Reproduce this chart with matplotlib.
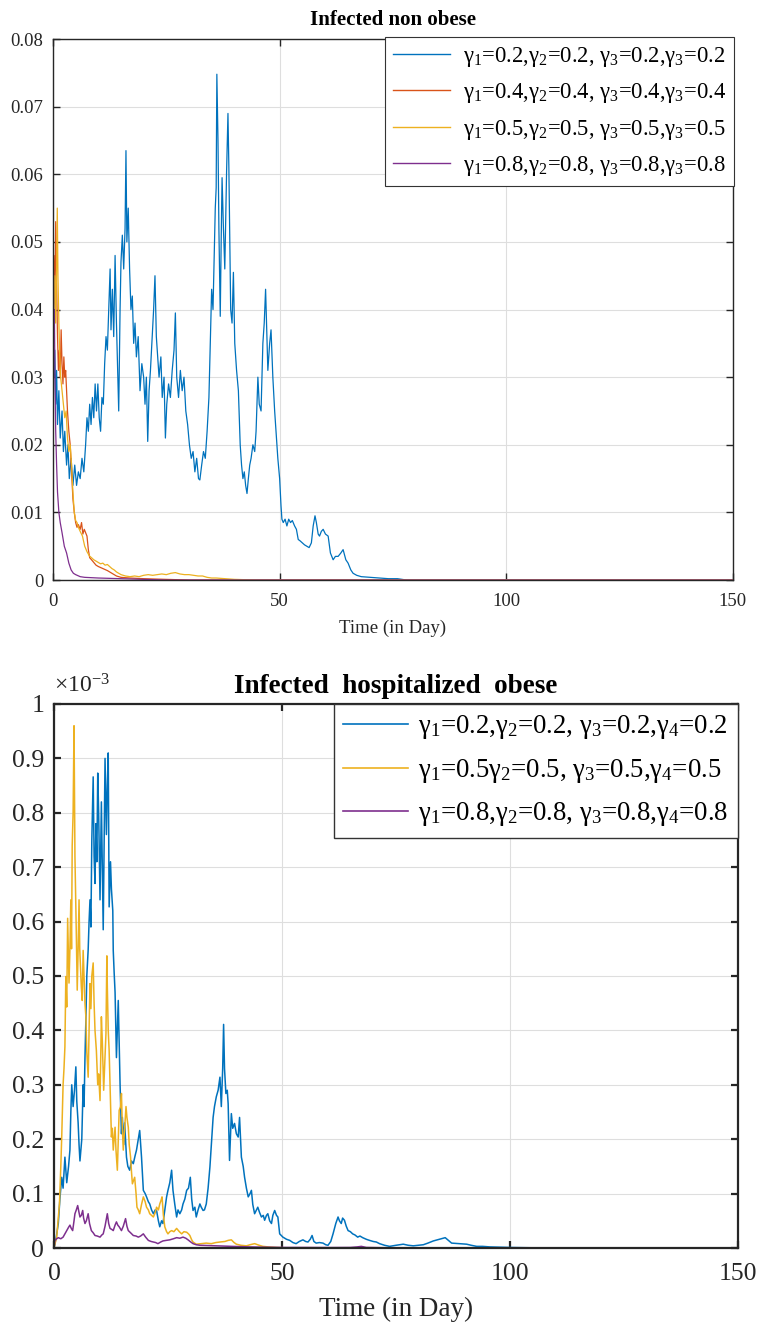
import numpy as np
import matplotlib
matplotlib.use('Agg')
import matplotlib.pyplot as plt
from matplotlib.ticker import FuncFormatter

plt.rcParams['font.family'] = ['Liberation Serif', 'DejaVu Serif']
plt.rcParams['mathtext.fontset'] = 'custom'
plt.rcParams['mathtext.rm'] = 'Liberation Serif'
plt.rcParams['mathtext.it'] = 'Liberation Serif:italic'
plt.rcParams['mathtext.default'] = 'regular'

# MATLAB default colours
c_blue, c_orange, c_yellow, c_purple = '#0072BD', '#D95319', '#EDB120', '#7E2F8E'

# ---------------- top panel: Infected non obese ----------------
t_top_blue = [0, 0.2, 0.4, 0.6, 0.8, 1.0, 1.3, 1.6, 2.0, 2.3, 2.6, 3.0, 3.3, 3.6, 4.0, 4.4, 4.8, 5.2, 5.6, 6.0,
              6.4, 6.8, 7.2, 7.5, 7.8, 8.1, 8.4, 8.7, 9.0, 9.3, 9.6, 9.9, 10.2, 10.5, 10.8, 11.1, 11.4, 11.7, 12.0, 12.3,
              12.6, 12.8, 13.1, 13.4, 13.7, 14.0, 14.3, 14.5, 14.8, 15.0, 15.3, 15.6, 15.9, 16.1, 16.3, 16.6, 16.9, 17.2, 17.5, 17.8,
              18.1, 18.4, 18.8, 19.2, 19.6, 20.0, 20.3, 20.6, 20.9, 21.2, 21.5, 21.9, 22.2, 22.5, 22.8, 23.1, 23.4, 23.8, 24.1, 24.5,
              24.8, 25.1, 25.5, 25.9, 26.3, 26.7, 27.0, 27.3, 27.7, 28.1, 28.5, 28.9, 29.3, 29.7, 30.1, 30.5, 30.9, 31.3, 31.7, 32.1,
              32.4, 32.8, 33.2, 33.6, 34.0, 34.4, 34.7, 35.0, 35.3, 35.5, 35.8, 36.0, 36.15, 36.4, 36.6, 36.9, 37.1, 37.3, 37.6, 37.9,
              38.1, 38.3, 38.6, 38.8, 39.0, 39.2, 39.5, 39.8, 40.1, 40.5, 40.9, 41.3, 41.6, 41.9, 42.2, 42.5, 42.8, 43.1, 43.4, 43.7,
              44.1, 44.5, 44.8, 45.2, 45.5, 45.9, 46.3, 46.6, 46.9, 47.2, 47.4, 47.8, 48.1, 48.5, 48.9, 49.3, 49.6, 50.0, 50.3, 50.5,
              50.8, 51.2, 51.6, 52.0, 52.4, 52.8, 53.3, 53.7, 54.1, 54.5, 55.0, 55.5, 56.0, 56.5, 57.0, 57.4, 57.8, 58.1, 58.5, 58.8,
              59.2, 59.6, 60.1, 60.7, 61.2, 61.8, 62.3, 62.9, 63.5, 64.0, 64.6, 65.1, 65.7, 66.2, 67.0, 68.0, 70.0, 72.0, 74.0, 76.0,
              78.0, 150]
v_top_blue = [0.040, 0.030, 0.034, 0.026, 0.031, 0.023, 0.028, 0.021, 0.025, 0.019, 0.022, 0.017, 0.020, 0.015, 0.018, 0.014, 0.017, 0.014, 0.016, 0.015,
              0.018, 0.016, 0.020, 0.024, 0.022, 0.026, 0.023, 0.027, 0.024, 0.029, 0.025, 0.029, 0.024, 0.022, 0.027, 0.026, 0.032, 0.036, 0.034, 0.040,
              0.046, 0.037, 0.043, 0.036, 0.048, 0.038, 0.030, 0.025, 0.040, 0.047, 0.051, 0.046, 0.052, 0.0635, 0.050, 0.055, 0.046, 0.040, 0.042, 0.035,
              0.038, 0.033, 0.036, 0.028, 0.032, 0.030, 0.026, 0.030, 0.0205, 0.028, 0.031, 0.036, 0.040, 0.045, 0.036, 0.033, 0.030, 0.033, 0.027, 0.030,
              0.021, 0.026, 0.029, 0.027, 0.031, 0.034, 0.0395, 0.030, 0.027, 0.031, 0.028, 0.030, 0.025, 0.023, 0.020, 0.018, 0.019, 0.016, 0.018, 0.015,
              0.0148, 0.017, 0.019, 0.018, 0.022, 0.027, 0.035, 0.043, 0.040, 0.046, 0.055, 0.058, 0.0748, 0.065, 0.052, 0.039, 0.050, 0.0595, 0.052, 0.046,
              0.053, 0.0605, 0.069, 0.061, 0.050, 0.040, 0.038, 0.0455, 0.035, 0.031, 0.028, 0.020, 0.017, 0.015, 0.016, 0.014, 0.0128, 0.015, 0.017, 0.018,
              0.020, 0.019, 0.022, 0.030, 0.026, 0.025, 0.035, 0.038, 0.043, 0.036, 0.031, 0.035, 0.037, 0.030, 0.025, 0.021, 0.018, 0.015, 0.011, 0.009,
              0.0085, 0.009, 0.008, 0.009, 0.0085, 0.0088, 0.008, 0.0075, 0.006, 0.0058, 0.0055, 0.0052, 0.005, 0.0048, 0.0055, 0.008, 0.0095, 0.0085, 0.0068, 0.0065,
              0.0072, 0.0075, 0.0068, 0.0065, 0.004, 0.003, 0.0035, 0.0035, 0.004, 0.0045, 0.003, 0.0025, 0.0015, 0.001, 0.0007, 0.0005, 0.0004, 0.0003, 0.0002, 0.0002,
              0.0, 0.0]

t_top_orange = [0, 0.2, 0.4, 0.6, 0.8, 1.0, 1.2, 1.4, 1.6, 1.8, 2.0, 2.2, 2.4, 2.6, 2.8, 3.0, 3.2, 3.5, 3.8, 4.1,
                4.4, 4.7, 5.0, 5.3, 5.6, 6.0, 6.3, 6.6, 6.9, 7.2, 7.5, 7.8, 8.1, 8.5, 9.0, 9.5, 10.0, 11.0, 12.0, 13.0,
                14.0, 15.0, 17.0, 20.0, 25.0, 30.0, 150]
v_top_orange = [0.045, 0.048, 0.041, 0.053, 0.044, 0.036, 0.031, 0.034, 0.030, 0.037, 0.032, 0.029, 0.033, 0.030, 0.031, 0.028, 0.025, 0.022, 0.020, 0.016,
                0.012, 0.010, 0.0085, 0.0078, 0.0082, 0.0075, 0.0085, 0.0068, 0.0075, 0.007, 0.0065, 0.0045, 0.0033, 0.003, 0.0026, 0.0022, 0.002, 0.0017, 0.0014, 0.001,
                0.0006, 0.0004, 0.0003, 0.0002, 0.0001, 0.0, 0.0]

t_top_yellow = [0, 0.2, 0.4, 0.6, 0.8, 0.95, 1.1, 1.3, 1.5, 1.7, 2.0, 2.3, 2.6, 2.9, 3.2, 3.5, 3.8, 4.1, 4.4, 4.7,
                5.0, 5.3, 5.6, 6.0, 6.5, 7.0, 7.5, 8.0, 8.5, 9.0, 9.5, 10.0, 10.5, 11.0, 11.5, 12.0, 12.5, 13.0, 13.5, 14.0,
                15.0, 16.0, 17.0, 18.0, 19.0, 20.0, 21.0, 22.0, 23.0, 24.0, 25.0, 26.0, 27.0, 28.0, 29.0, 30.0, 31.0, 32.0, 33.0, 34.0,
                35.0, 36.0, 38.0, 40.0, 45.0, 150]
v_top_yellow = [0.046, 0.040, 0.045, 0.038, 0.046, 0.055, 0.045, 0.038, 0.033, 0.030, 0.028, 0.026, 0.024, 0.025, 0.021, 0.019, 0.020, 0.017, 0.013, 0.010,
                0.0088, 0.0085, 0.0078, 0.0072, 0.0065, 0.005, 0.0042, 0.0036, 0.0033, 0.003, 0.0028, 0.0026, 0.0024, 0.0025, 0.0022, 0.0023, 0.002, 0.0017, 0.0015, 0.0012,
                0.0008, 0.0006, 0.0005, 0.0006, 0.0005, 0.0007, 0.0008, 0.0007, 0.0008, 0.0009, 0.0008, 0.001, 0.0011, 0.0009, 0.0008, 0.0008, 0.0007, 0.0006, 0.0006, 0.0004,
                0.0003, 0.0003, 0.0002, 0.0001, 0.0, 0.0]

t_top_purple = [0, 0.1, 0.2, 0.3, 0.45, 0.6, 0.8, 1.0, 1.3, 1.6, 2.0, 2.5, 3.0, 3.5, 4.0, 4.5, 5.0, 6.0, 7.0, 10.0,
                15.0, 20.0, 25.0, 150]
v_top_purple = [0.043, 0.046, 0.036, 0.040, 0.029, 0.022, 0.017, 0.013, 0.010, 0.0085, 0.007, 0.005, 0.004, 0.0025, 0.0015, 0.001, 0.0008, 0.0005, 0.0004, 0.0003,
                0.0002, 0.0001, 0.0, 0.0]

top_labels = [r'$\gamma_1$=0.2,$\gamma_2$=0.2, $\gamma_3$=0.2,$\gamma_3$=0.2',
              r'$\gamma_1$=0.4,$\gamma_2$=0.4, $\gamma_3$=0.4,$\gamma_3$=0.4',
              r'$\gamma_1$=0.5,$\gamma_2$=0.5, $\gamma_3$=0.5,$\gamma_3$=0.5',
              r'$\gamma_1$=0.8,$\gamma_2$=0.8, $\gamma_3$=0.8,$\gamma_3$=0.8']

# ---------------- bottom panel: Infected hospitalized obese (values x 1e-3) ----------------
t_bot_blue = [0, 0.5, 0.95, 1.3, 1.7, 2.0, 2.4, 2.8, 3.2, 3.5, 3.7, 3.9, 4.2, 4.5, 4.8, 5.0, 5.3, 5.5, 5.7, 5.9,
              6.1, 6.4, 6.6, 6.8, 7.0, 7.2, 7.5, 7.7, 7.9, 8.1, 8.3, 8.6, 8.8, 9.0, 9.2, 9.4, 9.6, 9.8, 10.1, 10.4,
              10.6, 10.8, 11.0, 11.2, 11.4, 11.5, 11.7, 11.9, 12.1, 12.4, 12.6, 12.9, 13.0, 13.2, 13.4, 13.7, 14.1, 14.3, 14.5, 14.8,
              15.0, 15.3, 15.5, 15.9, 16.2, 16.6, 17.0, 17.4, 17.8, 18.1, 18.5, 18.8, 19.2, 19.6, 20.0, 20.3, 20.7, 21.0, 21.4, 21.8,
              22.2, 22.5, 22.9, 23.2, 23.6, 23.9, 24.3, 24.7, 25.0, 25.4, 25.8, 26.1, 26.5, 26.9, 27.2, 27.6, 28.0, 28.3, 28.7, 29.1,
              29.5, 29.9, 30.2, 30.5, 30.9, 31.2, 31.6, 32.0, 32.3, 32.7, 33.0, 33.4, 33.8, 34.2, 34.6, 34.9, 35.2, 35.6, 36.0, 36.4,
              36.7, 37.0, 37.2, 37.4, 37.7, 38.0, 38.2, 38.5, 38.9, 39.2, 39.6, 40.0, 40.4, 40.7, 41.1, 41.5, 41.8, 42.2, 42.6, 43.0,
              43.3, 43.6, 44.0, 44.4, 44.7, 45.1, 45.5, 45.9, 46.2, 46.6, 46.9, 47.3, 47.7, 48.0, 48.4, 48.8, 49.1, 49.5, 50.2, 51.0,
              51.7, 52.4, 53.1, 53.8, 54.6, 55.2, 55.7, 56.2, 56.6, 57.0, 57.5, 58.2, 59.0, 59.6, 60.1, 60.7, 61.2, 61.8, 62.3, 62.6,
              63.0, 63.3, 63.7, 64.1, 64.5, 65.0, 65.5, 66.0, 66.6, 67.1, 67.7, 68.5, 69.2, 70.0, 70.7, 71.4, 72.5, 73.6, 75.0, 76.6,
              77.7, 78.8, 80.0, 81.0, 82.0, 83.2, 84.5, 85.8, 86.5, 87.2, 88.8, 90.5, 91.5, 92.7, 94.0, 95.6, 98.0, 100.0, 104.5, 108.0,
              150]
v_bot_blue = [0, 0.02, 0.045, 0.09, 0.13, 0.11, 0.167, 0.12, 0.15, 0.18, 0.25, 0.30, 0.26, 0.29, 0.333, 0.27, 0.23, 0.19, 0.16, 0.18,
              0.20, 0.30, 0.26, 0.35, 0.42, 0.50, 0.548, 0.60, 0.64, 0.59, 0.75, 0.866, 0.72, 0.67, 0.78, 0.71, 0.873, 0.80, 0.64, 0.82,
              0.70, 0.585, 0.75, 0.90, 0.80, 0.76, 0.85, 0.91, 0.627, 0.71, 0.66, 0.62, 0.547, 0.506, 0.47, 0.35, 0.455, 0.38, 0.30, 0.21,
              0.24, 0.19, 0.23, 0.167, 0.15, 0.143, 0.16, 0.155, 0.17, 0.18, 0.20, 0.216, 0.167, 0.106, 0.10, 0.094, 0.085, 0.081, 0.07, 0.063,
              0.07, 0.069, 0.05, 0.039, 0.05, 0.045, 0.07, 0.094, 0.106, 0.12, 0.143, 0.106, 0.08, 0.057, 0.07, 0.063, 0.07, 0.081, 0.09, 0.106,
              0.11, 0.13, 0.09, 0.069, 0.075, 0.057, 0.07, 0.081, 0.075, 0.069, 0.07, 0.081, 0.11, 0.149, 0.20, 0.24, 0.26, 0.278, 0.29, 0.314,
              0.26, 0.33, 0.411, 0.33, 0.284, 0.29, 0.265, 0.161, 0.247, 0.22, 0.229, 0.21, 0.204, 0.24, 0.167, 0.15, 0.13, 0.11, 0.094, 0.10,
              0.106, 0.08, 0.063, 0.07, 0.075, 0.065, 0.057, 0.06, 0.051, 0.06, 0.063, 0.05, 0.045, 0.06, 0.069, 0.06, 0.057, 0.026, 0.02, 0.016,
              0.014, 0.01, 0.008, 0.012, 0.015, 0.012, 0.011, 0.016, 0.023, 0.012, 0.009, 0.01, 0.009, 0.006, 0.005, 0.012, 0.026, 0.045, 0.057, 0.05,
              0.045, 0.055, 0.051, 0.04, 0.032, 0.03, 0.026, 0.024, 0.02, 0.022, 0.019, 0.016, 0.014, 0.012, 0.011, 0.008, 0.005, 0.003, 0.005, 0.007,
              0.005, 0.004, 0.005, 0.006, 0.009, 0.013, 0.016, 0.019, 0.014, 0.009, 0.008, 0.007, 0.005, 0.003, 0.003, 0.002, 0.0015, 0.001, 0.0005, 0.0,
              0.0]

t_bot_yellow = [0, 0.3, 0.6, 0.9, 1.2, 1.5, 1.7, 2.0, 2.2, 2.4, 2.6, 2.8, 3.0, 3.2, 3.3, 3.5, 3.7, 3.85, 4.0, 4.2,
                4.4, 4.6, 4.75, 4.9, 5.1, 5.3, 5.5, 5.65, 5.8, 6.0, 6.2, 6.4, 6.6, 6.8, 7.0, 7.2, 7.5, 7.7, 7.9, 8.1,
                8.3, 8.6, 8.8, 9.0, 9.3, 9.6, 9.8, 10.1, 10.4, 10.6, 10.9, 11.1, 11.4, 11.6, 11.7, 11.9, 12.1, 12.3, 12.6, 12.8,
                13.0, 13.2, 13.4, 13.6, 13.9, 14.1, 14.3, 14.6, 14.8, 15.0, 15.2, 15.5, 15.8, 16.0, 16.3, 16.5, 16.8, 17.0, 17.2, 17.5,
                17.7, 18.0, 18.2, 18.5, 18.8, 19.2, 19.6, 20.0, 20.3, 20.7, 21.0, 21.4, 21.8, 22.2, 22.5, 22.9, 23.2, 23.5, 23.7, 24.0,
                24.3, 24.7, 25.0, 25.4, 25.8, 26.3, 26.9, 27.5, 28.0, 28.5, 29.1, 29.5, 29.8, 30.2, 30.5, 31.2, 32.2, 33.4, 34.5, 35.5,
                36.4, 37.5, 38.2, 38.9, 39.5, 40.0, 41.0, 42.2, 43.0, 44.0, 45.0, 45.8, 47.0, 48.8, 52.0, 150]
v_bot_yellow = [0, 0.01, 0.02, 0.05, 0.081, 0.15, 0.204, 0.30, 0.33, 0.37, 0.499, 0.443, 0.606, 0.52, 0.487, 0.55, 0.64, 0.55, 0.74, 0.80,
                0.96, 0.72, 0.65, 0.578, 0.474, 0.55, 0.64, 0.55, 0.52, 0.48, 0.455, 0.547, 0.50, 0.45, 0.425, 0.36, 0.314, 0.40, 0.486, 0.44,
                0.50, 0.524, 0.45, 0.40, 0.363, 0.30, 0.32, 0.271, 0.425, 0.38, 0.29, 0.33, 0.394, 0.537, 0.48, 0.40, 0.363, 0.30, 0.204, 0.22,
                0.18, 0.20, 0.222, 0.18, 0.143, 0.20, 0.253, 0.26, 0.284, 0.22, 0.18, 0.22, 0.26, 0.24, 0.222, 0.19, 0.167, 0.14, 0.118, 0.125,
                0.13, 0.10, 0.075, 0.07, 0.063, 0.08, 0.094, 0.085, 0.075, 0.07, 0.063, 0.06, 0.057, 0.065, 0.075, 0.07, 0.081, 0.088, 0.094, 0.06,
                0.039, 0.03, 0.026, 0.03, 0.032, 0.03, 0.036, 0.03, 0.026, 0.03, 0.029, 0.026, 0.023, 0.015, 0.011, 0.007, 0.008, 0.009, 0.008, 0.01,
                0.011, 0.012, 0.014, 0.015, 0.01, 0.007, 0.005, 0.004, 0.006, 0.008, 0.005, 0.003, 0.002, 0.001, 0.0, 0.0]

t_bot_purple = [0, 0.2, 0.6, 0.95, 1.5, 2.0, 2.4, 2.8, 3.2, 3.5, 3.8, 4.1, 4.4, 4.6, 4.9, 5.2, 5.5, 5.7, 6.0, 6.3,
                6.5, 6.8, 7.1, 7.5, 7.8, 8.2, 8.6, 9.0, 9.5, 10.1, 10.5, 10.8, 11.2, 11.7, 12.0, 12.3, 12.7, 13.0, 13.4, 13.7,
                14.0, 14.3, 14.8, 15.2, 15.7, 16.0, 16.3, 16.8, 17.4, 18.0, 18.5, 19.0, 19.6, 20.1, 20.7, 21.3, 21.8, 22.3, 22.8, 23.4,
                23.9, 24.6, 25.4, 26.2, 26.9, 27.6, 28.3, 28.9, 29.4, 30.0, 30.5, 31.2, 32.0, 35.6, 39.0, 42.9, 46.0, 50.2, 55.0, 60.0,
                65.0, 66.5, 67.4, 68.5, 72.0, 80.0, 150]
v_bot_purple = [0, 0.014, 0.017, 0.019, 0.017, 0.02, 0.026, 0.032, 0.038, 0.042, 0.036, 0.032, 0.05, 0.063, 0.07, 0.078, 0.065, 0.057, 0.06, 0.069,
                0.055, 0.045, 0.05, 0.063, 0.045, 0.032, 0.028, 0.023, 0.022, 0.02, 0.024, 0.026, 0.04, 0.063, 0.045, 0.036, 0.034, 0.032, 0.042, 0.048,
                0.042, 0.039, 0.032, 0.04, 0.054, 0.04, 0.032, 0.028, 0.023, 0.022, 0.02, 0.022, 0.026, 0.02, 0.014, 0.012, 0.011, 0.01, 0.008, 0.011,
                0.013, 0.014, 0.015, 0.017, 0.019, 0.018, 0.02, 0.018, 0.015, 0.011, 0.008, 0.006, 0.005, 0.004, 0.003, 0.002, 0.0015, 0.001, 0.001, 0.0008,
                0.001, 0.002, 0.003, 0.001, 0.0005, 0.0, 0.0]

bot_labels = [r'$\gamma_1$=0.2,$\gamma_2$=0.2, $\gamma_3$=0.2,$\gamma_4$=0.2',
              r'$\gamma_1$=0.5$\gamma_2$=0.5, $\gamma_3$=0.5,$\gamma_4$=0.5',
              r'$\gamma_1$=0.8,$\gamma_2$=0.8, $\gamma_3$=0.8,$\gamma_4$=0.8']

x_ticks = [0, 50, 100, 150]
top_yticks = [0, 0.01, 0.02, 0.03, 0.04, 0.05, 0.06, 0.07, 0.08]
bot_yticks = [0, 0.1, 0.2, 0.3, 0.4, 0.5, 0.6, 0.7, 0.8, 0.9, 1.0]  # x 1e-3

fig = plt.figure(figsize=(7.59, 13.24), dpi=100)
ax1 = fig.add_axes([0.0698, 0.5619, 0.8959, 0.4086])
ax2 = fig.add_axes([0.0711, 0.0574, 0.9012, 0.4109])

def style(ax, fs, lw, xpad, ypad):
    ax.set_xlim(0, 150)
    ax.set_xticks(x_ticks)
    ax.grid(True, color='#dedede', lw=0.8)
    ax.set_axisbelow(True)
    ax.tick_params(direction='in', top=True, right=True, labelsize=fs, colors='#262626',
                   length=5, width=lw)
    ax.tick_params(axis='x', pad=xpad)
    ax.tick_params(axis='y', pad=ypad)
    for s in ax.spines.values():
        s.set_color('#262626')
        s.set_linewidth(lw)

# top panel
ax1.plot(t_top_blue, v_top_blue, color=c_blue, lw=0.9, label=top_labels[0])
ax1.plot(t_top_orange, v_top_orange, color=c_orange, lw=0.9, label=top_labels[1])
ax1.plot(t_top_yellow, v_top_yellow, color=c_yellow, lw=0.9, label=top_labels[2])
ax1.plot(t_top_purple, v_top_purple, color=c_purple, lw=0.9, label=top_labels[3])
style(ax1, 13.5, 1.0, 9, 7)
ax1.set_ylim(0, 0.08)
ax1.set_yticks(top_yticks)
ax1.yaxis.set_major_formatter(FuncFormatter(lambda v, p: '0' if v == 0 else f'{v:.2f}'))
ax1.set_xlabel('Time (in Day)', fontsize=13.5, color='#262626', labelpad=7)
ax1.set_title('Infected non obese', fontsize=15, fontweight='bold', pad=10)
leg1 = ax1.legend(loc='upper right', bbox_to_anchor=(1.002, 1.004), fontsize=16.3, handlelength=2.5,
                  frameon=True, fancybox=False, framealpha=1, edgecolor='#333333',
                  borderaxespad=0, labelspacing=0.55, handletextpad=0.6, borderpad=0.35)
leg1.get_frame().set_linewidth(0.8)
for ln in leg1.get_lines():
    ln.set_linewidth(1.0)

# bottom panel
s = 1e-3
ax2.plot(t_bot_blue, np.array(v_bot_blue) * s, color=c_blue, lw=1.1, label=bot_labels[0])
ax2.plot(t_bot_yellow, np.array(v_bot_yellow) * s, color=c_yellow, lw=1.1, label=bot_labels[1])
ax2.plot(t_bot_purple, np.array(v_bot_purple) * s, color=c_purple, lw=1.1, label=bot_labels[2])
style(ax2, 18.5, 1.6, 11, 7)
ax2.set_ylim(0, 1e-3)
ax2.set_yticks(np.array(bot_yticks) * s)
ax2.yaxis.set_major_formatter(FuncFormatter(lambda v, p: f'{v / s:g}'))
ax2.set_xlabel('Time (in Day)', fontsize=19.5, color='#262626', labelpad=8)
ax2.set_title('Infected  hospitalized  obese', fontsize=19.5, fontweight='bold', pad=8)
ax2.text(0.0, 1.012, r'$\times10^{-3}$', transform=ax2.transAxes, fontsize=17, color='#262626',
         ha='left', va='bottom')
leg2 = ax2.legend(loc='upper right', bbox_to_anchor=(1.0, 1.0), fontsize=19.3, handlelength=2.4,
                  frameon=True, fancybox=False, framealpha=1, edgecolor='#333333',
                  borderaxespad=0, labelspacing=0.58, handletextpad=0.4, borderpad=0.35)
leg2.get_frame().set_linewidth(1.0)
for ln in leg2.get_lines():
    ln.set_linewidth(1.2)

fig.savefig('out.png', dpi=100)
